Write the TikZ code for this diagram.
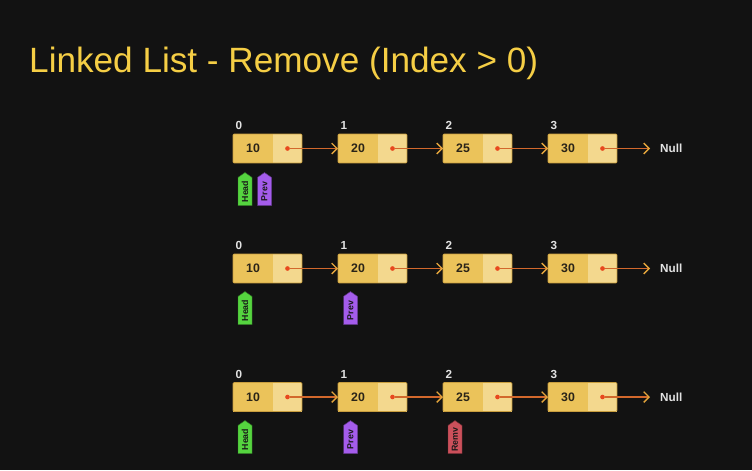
\documentclass[tikz,border=0pt]{standalone}
\usepackage{fontspec}
\setmainfont{Liberation Sans}
\usetikzlibrary{positioning,arrows.meta,shapes.symbols}
\definecolor{bg}{HTML}{121212}
\definecolor{titleyellow}{HTML}{F5CE45}
\definecolor{cellval}{HTML}{EBC35A}
\definecolor{cellnext}{HTML}{F3D88E}
\definecolor{cellborder}{HTML}{C99E3E}
\definecolor{celltext}{HTML}{2A2418}
\definecolor{dotred}{HTML}{E8481E}
\definecolor{linkline}{HTML}{D2682C}
\definecolor{linktip}{HTML}{E4A53C}
\definecolor{idxgray}{HTML}{E2E2E2}
\definecolor{headgreen}{HTML}{55D43F}
\definecolor{prevpurple}{HTML}{A45CEB}
\definecolor{remvred}{HTML}{CB505B}

\begin{document}
\begin{tikzpicture}[x=0.03cm, y=-0.03cm,
    val/.style={rectangle, fill=cellval, minimum width=1.2cm, minimum height=0.87cm, inner sep=0pt, outer sep=0pt,
      text=celltext, font=\fontsize{10.5}{12}\selectfont\bfseries},
    nxt/.style={rectangle, fill=cellnext, minimum width=0.87cm, minimum height=0.87cm, inner sep=0pt, outer sep=0pt},
    dot/.style={circle, fill=dotred, minimum size=4pt, inner sep=0pt},
    link/.style={draw=linkline, line width=0.9pt, -{Straight Barb[length=4.5pt,width=9pt,color=linktip,line width=1.2pt]}},
    idx/.style={text=idxgray, font=\fontsize{10}{11}\selectfont\bfseries, inner sep=0pt},
    tag/.style={signal, signal to=east, signal pointer angle=110, rotate=90, draw=#1!55!black, fill=#1,
      minimum width=0.99cm, minimum height=0.42cm, inner sep=0pt, text=black!90,
      font=\fontsize{7.5}{8}\selectfont\bfseries}
  ]
  \fill[bg] (0,0) rectangle (752,470);
  \node[text=titleyellow, font=\fontsize{30}{36}\selectfont, anchor=base west, inner sep=0pt] (title) at (29,72)
    {Linked List - Remove (Index > 0)};

  % three copies of the list: 10 -> 20 -> 25 -> 30 -> Null
  \foreach \r/\y in {1/148.5, 2/268.5, 3/397} {
    \foreach \i/\x/\v in {0/233/10, 1/338/20, 2/443/25, 3/548/30} {
      \node[val, anchor=west] (v\r\i) at (\x,\y) {\v};
      \node[nxt, right=0pt of v\r\i] (p\r\i) {};
      \draw[cellborder, line width=0.6pt, rounded corners=1pt] (v\r\i.north west) rectangle (p\r\i.south east);
      \node[dot] (d\r\i) at (p\r\i.center) {};
      \node[idx, anchor=south west] (i\r\i) at ([xshift=2pt, yshift=3.5pt]v\r\i.north west) {\i};
    }
    \foreach \i/\j in {0/1, 1/2, 2/3}
      \draw[link] (d\r\i) -- (v\r\j.west);
    \node[text=idxgray, font=\fontsize{10}{11}\selectfont\bfseries, anchor=west, inner sep=0pt] (null\r) at (660,\y) {Null};
    \draw[link, shorten >=0.3cm] (d\r3) -- (null\r.west);
  }

  % pointers
  \node[tag=headgreen] (head1) at (245,191.5) {Head};
  \node[tag=prevpurple] (prev1) at (264.5,191.5) {Prev};
  \node[tag=headgreen] (head2) at (245,310.5) {Head};
  \node[tag=prevpurple] (prev2) at (350.5,310.5) {Prev};
  \node[tag=headgreen] (head3) at (245,439.5) {Head};
  \node[tag=prevpurple] (prev3) at (350.5,439.5) {Prev};
  \node[tag=remvred] (remv3) at (455,439.5) {Remv};
\end{tikzpicture}
\end{document}
